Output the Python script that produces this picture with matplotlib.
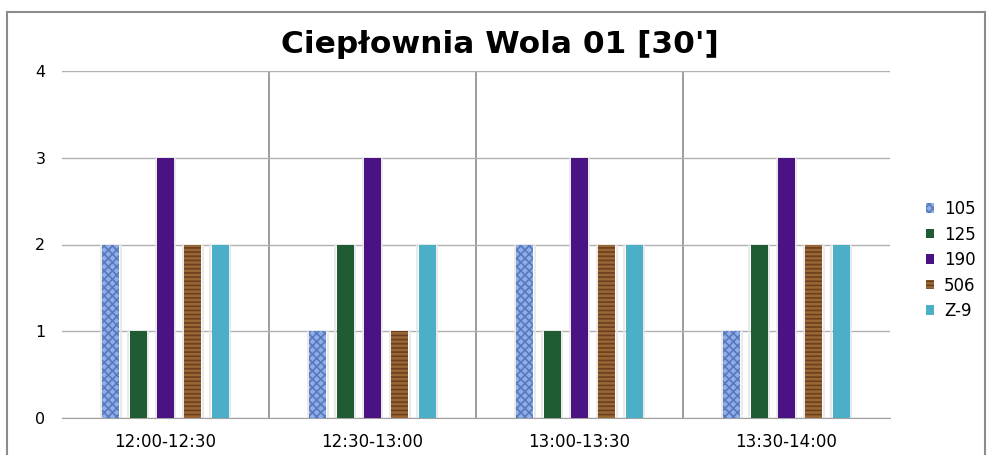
import numpy as np
import matplotlib
matplotlib.use("Agg")
import matplotlib.pyplot as plt
from matplotlib.patches import Rectangle

plt.rcParams['font.family'] = ['DejaVu Sans']
plt.rcParams['hatch.linewidth'] = 1.2

categories = ['12:00-12:30', '12:30-13:00', '13:00-13:30', '13:30-14:00']
series = ['105', '125', '190', '506', 'Z-9']
v105 = [2, 1, 2, 1]
v125 = [1, 2, 1, 2]
v190 = [3, 3, 3, 3]
v506 = [2, 1, 2, 2]
vz9 = [2, 2, 2, 2]
values = [v105, v125, v190, v506, vz9]

colors = ['#8FAEE6', '#1F5C33', '#4A1282', '#9A6634', '#4BAFC8']
hatch_colors = ['#5878C0', '#2E7048', '#5A2096', '#6A4020', '#4BAFC8']
hatches = ['xxxx', None, None, '----', None]

fig = plt.figure(figsize=(9.9, 4.55), dpi=100)
# chart frame
fig.patches.append(Rectangle((7 / 990, -0.05), 978 / 990, 1.05 - 12 / 455,
                             transform=fig.transFigure, fill=False,
                             edgecolor='#8c8c8c', linewidth=1.5))
ax = fig.add_axes([62 / 990, 37 / 455, 828 / 990, 347 / 455])

x = np.arange(len(categories))
step = 0.132
width = 0.082
for i, (name, vals) in enumerate(zip(series, values)):
    pos = x + (i - 2) * step
    ax.bar(pos, vals, width, color=colors[i], edgecolor=hatch_colors[i],
           hatch=hatches[i], linewidth=0, label=name, zorder=3)
    ax.bar(pos, vals, width + 0.012, color='none', edgecolor='#e6e6e6',
           linewidth=1.2, zorder=2)

ax.set_xlim(-0.5, 3.5)
ax.set_ylim(0, 4)
ax.set_yticks([0, 1, 2, 3, 4])
ax.set_xticks(x)
ax.set_xticklabels(categories, fontsize=12)
ax.tick_params(axis='y', labelsize=11.5, length=0, pad=12)
ax.tick_params(axis='x', length=0, pad=11)
ax.grid(axis='y', color='#b0b0b0', linewidth=1, zorder=0)
for sep in [0.5, 1.5, 2.5]:
    ax.axvline(sep, color='#8c8c8c', linewidth=1.2, zorder=1)
for s in ['top', 'right', 'left']:
    ax.spines[s].set_visible(False)
ax.spines['bottom'].set_color('#a0a0a0')

fig.text(0.505, 0.903, "Ciepłownia Wola 01 [30']", ha='center', va='center',
         fontsize=22.5, fontweight='bold')

leg = ax.legend(loc='center left', bbox_to_anchor=(1.025, 0.455), frameon=False,
                fontsize=12, handlelength=0.5, handleheight=0.5,
                labelspacing=0.45, handletextpad=0.6)

fig.savefig('out.png', dpi=100)
